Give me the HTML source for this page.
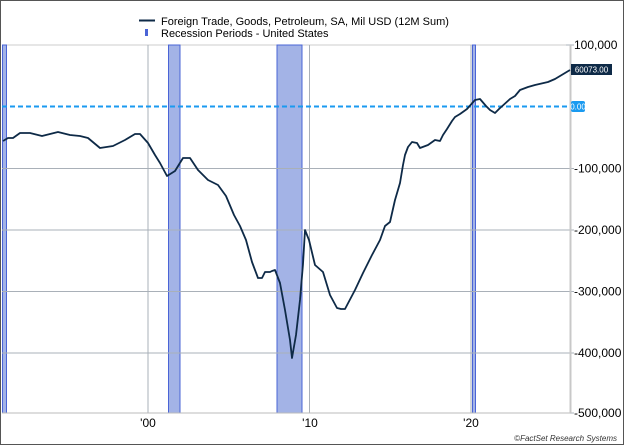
<!DOCTYPE html>
<html><head><style>
html,body{margin:0;padding:0;background:#fff;}
svg{display:block;font-family:"Liberation Sans",Arial,sans-serif;}
</style></head><body>
<svg width="624" height="445" viewBox="0 0 624 445" xmlns="http://www.w3.org/2000/svg">
<rect x="0.5" y="0.5" width="623" height="444" fill="#fff" stroke="#555" stroke-width="1"/>
<!-- plot border -->
<line x1="2" y1="45" x2="570" y2="45" stroke="#ccc"/>
<!-- recessions -->
<g fill="#a3b3e6" stroke="#4a64d6" stroke-width="1">
<rect x="2.5" y="45" width="4" height="368"/>
<rect x="168.5" y="45" width="11.5" height="368"/>
<rect x="277" y="45" width="25" height="368"/>
<rect x="472.5" y="45" width="3" height="368"/>
</g>
<!-- gridlines -->
<g stroke="#a9b0b8" stroke-width="1">
<line x1="148" y1="45" x2="148" y2="413"/>
<line x1="309.5" y1="45" x2="309.5" y2="413"/>
<line x1="471" y1="45" x2="471" y2="413"/>
<line x1="2" y1="168.5" x2="574" y2="168.5"/>
<line x1="2" y1="230" x2="574" y2="230"/>
<line x1="2" y1="291.5" x2="574" y2="291.5"/>
<line x1="2" y1="353" x2="574" y2="353"/>
<line x1="566" y1="45" x2="574" y2="45"/>
<line x1="566" y1="413" x2="574" y2="413"/>
</g>
<line x1="2" y1="413" x2="570" y2="413" stroke="#bbb"/>
<line x1="570.5" y1="45" x2="570.5" y2="413" stroke="#c8c8c8" stroke-width="2"/>
<!-- zero line -->
<line x1="2" y1="106.5" x2="570" y2="106.5" stroke="#1a9af0" stroke-width="2" stroke-dasharray="5,3"/>
<!-- series -->
<polyline fill="none" stroke="#0e2a47" stroke-width="1.8" stroke-linejoin="round" points="3,141 8,138 13,138 20,133 30,133 42,136 58,132 70,135 80,136 88,138 100,148 113,146 125,140 135,134 140,134 148,143 155,155 160,163 167,176 175,171 183,158 190,158 198,170 208,180 218,185 226,196 234,215 240,226 246,240 252,262 258,278 262,278 265,272 270,272 272,271 275,270 280,283 285,310 290,340 292,358 296,335 300,300 303,264 305,230 309,240 315,265 323,272 330,295 337,308 341,309 345,309 355,290 363,273 372,255 380,240 385,226 390,222 395,200 400,183 403,165 405,155 408,147 412,142 417,143 420,148 428,145 435,140 440,141 443,135 447,129 452,121 455,117 460,114 467,109 475,100 480,99 486,106 490,110 495,113 499,109 510,99 515,96 520,90 528,87 535,85 548,82 555,79 560,76 570,70"/>
<!-- value labels -->
<rect x="571" y="64" width="41" height="11" fill="#0e2a47"/>
<text x="591.5" y="72.5" font-size="8" fill="#fff" text-anchor="middle">60073.00</text>
<rect x="571" y="101" width="14" height="11" rx="2" fill="#1a9af0"/>
<text x="578" y="109.5" font-size="8" fill="#fff" text-anchor="middle">0.00</text>
<!-- y labels -->
<g font-size="12" fill="#000">
<text x="574" y="49">100,000</text>
<text x="574" y="172.5">-100,000</text>
<text x="574" y="234">-200,000</text>
<text x="574" y="295.5">-300,000</text>
<text x="574" y="357">-400,000</text>
<text x="574" y="417">-500,000</text>
</g>
<!-- x labels -->
<g font-size="12" fill="#000" text-anchor="middle">
<text x="148" y="427">'00</text>
<text x="310" y="427">'10</text>
<text x="471" y="427">'20</text>
</g>
<text x="617" y="441" font-size="8" font-style="italic" fill="#333" text-anchor="end">©FactSet Research Systems</text>
<!-- legend -->
<line x1="139" y1="20.5" x2="155" y2="20.5" stroke="#0e2a47" stroke-width="2"/>
<text x="161" y="25" font-size="11" fill="#000">Foreign Trade, Goods, Petroleum, SA, Mil USD (12M Sum)</text>
<rect x="145" y="29" width="3" height="7" fill="#4a64d6"/>
<text x="161" y="37" font-size="11" fill="#000">Recession Periods - United States</text>
</svg>
</body></html>
